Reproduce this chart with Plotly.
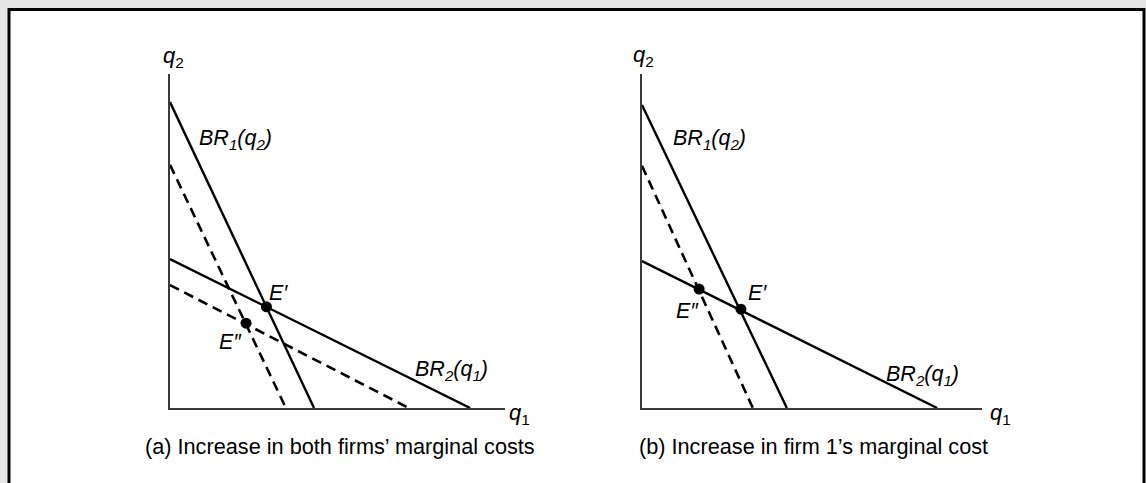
import plotly.graph_objects as go

W, H = 1146, 483

# ---- data (arbitrary units, axes 0..10) ----
# Panel (a): both firms' marginal costs rise
a_br1_old = [9.16, 4.30]      # [q2 intercept, q1 intercept]
a_br1_new = [7.28, 3.46]
a_br2_old = [4.46, 8.96]
a_br2_new = [3.68, 7.13]
a_E1 = [2.88, 3.03]           # E'  (q1, q2)
a_E2 = [2.27, 2.54]           # E'' (q1, q2)

# Panel (b): only firm 1's marginal cost rises
b_br1_old = [9.07, 4.26]
b_br1_new = [7.25, 3.26]
b_br2_old = [4.40, 8.68]
b_E1 = [2.91, 2.96]
b_E2 = [1.68, 3.56]

captions = ["(a) Increase in both firms’ marginal costs",
            "(b) Increase in firm 1’s marginal cost"]

FONT = "Liberation Sans, Arial, Helvetica, sans-serif"

def px(x):
    return x / W

def py(y):
    return 1 - y / H

fig = go.Figure()

def line_trace(br, xa, ya, dash):
    q2i, q1i = br
    return go.Scatter(x=[0, q1i], y=[q2i, 0], mode="lines", xaxis=xa, yaxis=ya,
                      line=dict(color="black", width=(2.6 if dash else 2.4),
                                dash=("10px,6px" if dash else "solid")),
                      hoverinfo="skip", showlegend=False)

def dot_trace(pts, xa, ya):
    return go.Scatter(x=[p[0] for p in pts], y=[p[1] for p in pts], mode="markers",
                      xaxis=xa, yaxis=ya, marker=dict(color="black", size=11),
                      hoverinfo="skip", showlegend=False)

fig.add_trace(line_trace(a_br1_new, "x", "y", True))
fig.add_trace(line_trace(a_br2_new, "x", "y", True))
fig.add_trace(line_trace(a_br1_old, "x", "y", False))
fig.add_trace(line_trace(a_br2_old, "x", "y", False))
fig.add_trace(dot_trace([a_E1, a_E2], "x", "y"))

fig.add_trace(line_trace(b_br1_new, "x2", "y2", True))
fig.add_trace(line_trace(b_br1_old, "x2", "y2", False))
fig.add_trace(line_trace(b_br2_old, "x2", "y2", False))
fig.add_trace(dot_trace([b_E1, b_E2], "x2", "y2"))

ax_common = dict(range=[0, 10], showgrid=False, zeroline=False, showticklabels=False,
                 ticks="", showline=True, linecolor="#3a3a3a", linewidth=2,
                 fixedrange=True)

fig.update_layout(
    width=W, height=H,
    margin=dict(l=0, r=0, t=0, b=0),
    paper_bgcolor="#e5e5e5",
    plot_bgcolor="rgba(0,0,0,0)",
    xaxis=dict(domain=[px(170), px(505)], anchor="y", **ax_common),
    yaxis=dict(domain=[py(408), py(74)], anchor="x", **ax_common),
    xaxis2=dict(domain=[px(642), px(982)], anchor="y2", **ax_common),
    yaxis2=dict(domain=[py(408), py(74)], anchor="x2", **ax_common),
    font=dict(family=FONT, color="black", size=21),
    shapes=[dict(type="rect", xref="paper", yref="paper",
                 x0=px(9), x1=px(1144), y0=py(495), y1=py(9.5),
                 line=dict(color="black", width=3), fillcolor="white",
                 layer="below")],
)

def ann(text, x, y, xanchor="left", size=21.5):
    fig.add_annotation(text=text, x=px(x), y=py(y), xref="paper", yref="paper",
                       xanchor=xanchor, yanchor="middle", showarrow=False,
                       font=dict(family=FONT, size=size, color="black"))

# axis labels
ann("<i>q</i><sub>2</sub>", 173, 57, "center", 22)
ann("<i>q</i><sub>2</sub>", 643, 56, "center", 22)
ann("<i>q</i><sub>1</sub>", 507, 414, "left", 22)
ann("<i>q</i><sub>1</sub>", 988, 414, "left", 22)

# curve labels
ann("<i>BR</i><sub><i>1</i></sub><i>(q</i><sub><i>2</i></sub><i>)</i>", 197, 139)
ann("<i>BR</i><sub><i>1</i></sub><i>(q</i><sub><i>2</i></sub><i>)</i>", 671, 139)
ann("<i>BR</i><sub><i>2</i></sub><i>(q</i><sub><i>1</i></sub><i>)</i>", 413, 370)
ann("<i>BR</i><sub><i>2</i></sub><i>(q</i><sub><i>1</i></sub><i>)</i>", 884, 375)

# equilibrium labels
ann("<i>E′</i>", 267, 293)
ann("<i>E′</i>", 746, 293)
ann("<i>E″</i>", 217, 342)
ann("<i>E″</i>", 674, 311)

# captions
ann(captions[0], 340, 446, "center", 21.7)
ann(captions[1], 813, 446, "center", 21.7)

fig.write_html("out.html",
               config={"displayModeBar": False, "staticPlot": True},
               post_script="document.body.style.margin='0';"
                           "document.body.style.overflow='hidden';")
